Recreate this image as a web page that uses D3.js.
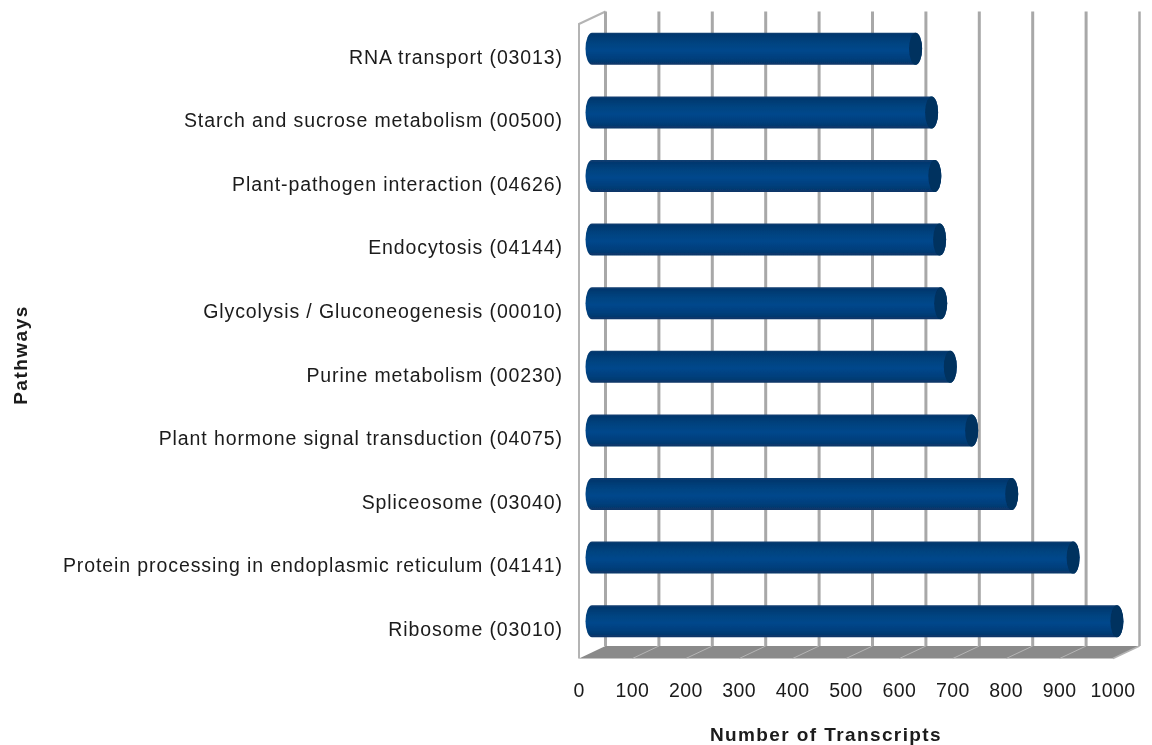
<!DOCTYPE html>
<html><head><meta charset="utf-8">
<script src="https://cdn.jsdelivr.net/npm/d3@7"></script>
<style>html,body{margin:0;background:#fff}svg{display:block}text{font-family:"Liberation Sans",Arial,sans-serif;fill:#1a1a1a}</style>
</head><body><div id="c"></div>
<script>
const categories = ["RNA transport (03013)","Starch and sucrose metabolism (00500)","Plant-pathogen interaction (04626)","Endocytosis (04144)","Glycolysis / Gluconeogenesis (00010)","Purine metabolism (00230)","Plant hormone signal transduction (04075)","Spliceosome (03040)","Protein processing in endoplasmic reticulum (04141)","Ribosome (03010)"];
const values = [606,636,642,651,653,671,711,786,901,983];
const tickValues = [0,100,200,300,400,500,600,700,800,900,1000];
const xTitle = "Number of Transcripts", yTitle = "Pathways";

const W=1152,H=745, dx=26.5, dy=12.5;
const x=d3.scaleLinear().domain([0,1000]).range([579,1113]);
const y=d3.scaleBand().domain(categories).range([17,653]).paddingInner(0).paddingOuter(0);
const svg=d3.select("#c").append("svg").attr("width",W).attr("height",H);
const defs=svg.append("defs");
const g=defs.append("linearGradient").attr("id","cyl").attr("x1",0).attr("x2",0).attr("y1",0).attr("y2",1);
[[0,"#123f70"],[0.07,"#02376e"],[0.3,"#01437f"],[0.55,"#02478c"],[0.8,"#013f7c"],[1,"#0a3566"]].forEach(s=>g.append("stop").attr("offset",s[0]).attr("stop-color",s[1]));
const soft=defs.append("filter").attr("id","soft").attr("x","-5%").attr("y","-5%").attr("width","110%").attr("height","110%");
soft.append("feGaussianBlur").attr("stdDeviation",0.5);
const softText=defs.append("filter").attr("id","softText").attr("x","-5%").attr("y","-20%").attr("width","110%").attr("height","140%");
softText.append("feGaussianBlur").attr("stdDeviation",0.3);

const wallTop=11.5,bot=646,fy=bot+dy;
const root=svg.append("g").attr("filter","url(#soft)");
// floor
root.append("path").attr("d",`M${x(0)},${fy}L${x(0)+dx},${bot}H${x(1000)+dx}L${x(1000)},${fy}Z`).attr("fill","#8a8a8a");
// walls outline
root.append("path").attr("d",`M${x(0)},${fy}V${wallTop+dy}L${x(0)+dx},${wallTop}`).attr("fill","none").attr("stroke","#b4b4b4").attr("stroke-width",2);
// gridlines on back wall
root.selectAll("line.grid").data(tickValues).join("line").attr("class","grid")
 .attr("x1",d=>x(d)+dx).attr("x2",d=>x(d)+dx).attr("y1",wallTop).attr("y2",bot)
 .attr("stroke","#a8a8a8").attr("stroke-width",d=>d==1000?2.5:3);
// floor grid lines
root.selectAll("line.fg").data(tickValues.slice(1,-1)).join("line").attr("class","fg")
 .attr("x1",d=>x(d)).attr("x2",d=>x(d)+dx).attr("y1",fy).attr("y2",bot)
 .attr("stroke","#b5b5b5").attr("stroke-width",1);
root.append("line").attr("x1",x(1000)).attr("x2",x(1000)+dx).attr("y1",fy).attr("y2",bot).attr("stroke","#b4b4b4").attr("stroke-width",1.5);

// bars
const bh=32, rx=6.5, ox=13;
const bars=root.selectAll("g.bar").data(categories).join("g").attr("class","bar");
const cy=c=>y(c)+y.bandwidth()/2;
bars.append("path").attr("d",(c,i)=>{
  const x0=x(0)+ox,x1=x(values[i])+ox,t=cy(c)-bh/2,b=t+bh;
  return `M${x0},${t}H${x1}A${rx},${bh/2} 0 0 1 ${x1},${b}H${x0}A${rx},${bh/2} 0 0 1 ${x0},${t}Z`;
}).attr("fill","url(#cyl)");
bars.append("ellipse").attr("cx",(c,i)=>x(values[i])+ox).attr("cy",cy).attr("rx",rx).attr("ry",bh/2).attr("fill","#03305e");

// axes
const labels=svg.append("g").attr("filter","url(#softText)");
const ax=labels.append("g").attr("transform","translate(-0.5,681)").call(d3.axisBottom(x).tickValues(tickValues).tickFormat(d3.format("d")).tickSize(0).tickPadding(0));
ax.select(".domain").remove();
ax.selectAll("text").attr("font-size",19.5).attr("letter-spacing","0.4").attr("dy","0.8em").style("font-family",'"Liberation Sans"').attr("fill","#1a1a1a");
const ay=labels.append("g").attr("transform","translate(563,8.5)").call(d3.axisLeft(y).tickSize(0).tickPadding(0));
ay.select(".domain").remove();
ay.selectAll("text").attr("font-size",19.5).attr("letter-spacing","0.9").style("font-family",'"Liberation Sans"').attr("fill","#1a1a1a");
labels.append("text").attr("x",826).attr("y",741).attr("text-anchor","middle").attr("font-size",19).attr("font-weight","bold").attr("letter-spacing","1.4").text(xTitle);
labels.append("text").attr("transform","translate(27,355) rotate(-90)").attr("text-anchor","middle").attr("font-size",19).attr("font-weight","bold").attr("letter-spacing","1.5").text(yTitle);
</script></body></html>
